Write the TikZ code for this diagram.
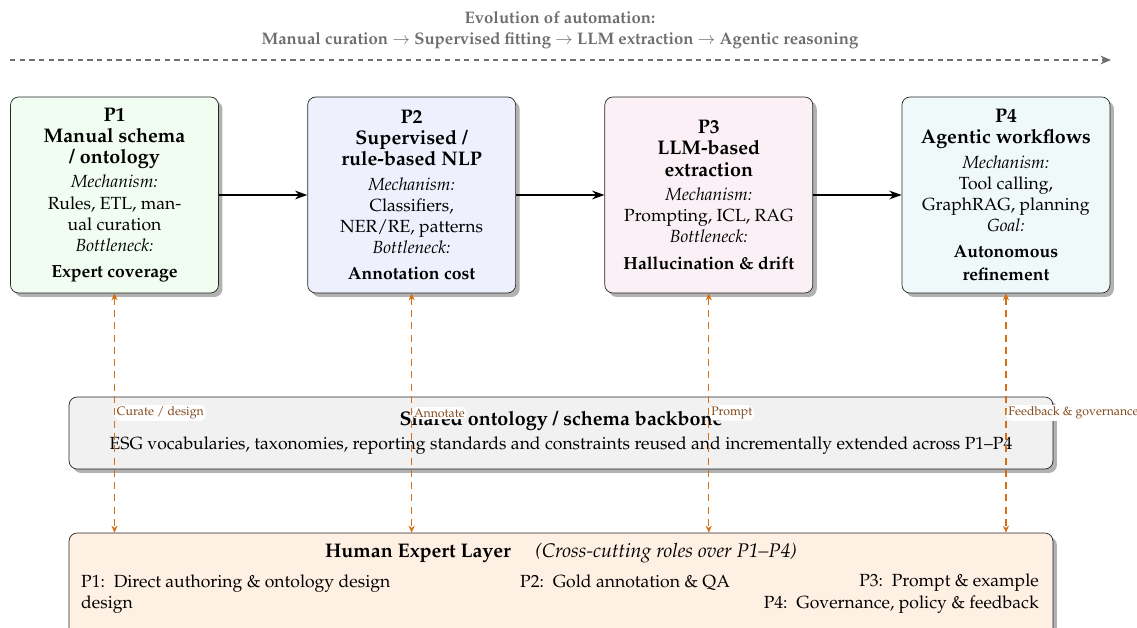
\documentclass[tikz,border=0pt]{standalone}
\usepackage[T1]{fontenc}
\usepackage{mathpazo}
\usetikzlibrary{arrows.meta, positioning, shadows}
\definecolor{phaseone}{RGB}{240,253,240}
\definecolor{phasetwo}{RGB}{238,240,253}
\definecolor{phasethree}{RGB}{251,240,245}
\definecolor{phasefour}{RGB}{239,249,249}
\definecolor{backbonegray}{RGB}{241,241,241}
\definecolor{humanfill}{RGB}{255,240,228}
\definecolor{roleorange}{RGB}{214,110,20}
\definecolor{rolebrown}{RGB}{130,70,25}
\definecolor{evogray}{RGB}{110,110,110}
\newcommand{\boxhead}{\fontsize{11.2}{13.5}\selectfont\bfseries}

\begin{document}
\begin{tikzpicture}[
        x=0.02cm, y=-0.02cm,
        phase/.style={rectangle, draw=black!85, rounded corners=0.16cm, minimum width=4.16cm, minimum height=3.92cm, align=center, inner sep=2pt, drop shadow={shadow xshift=0.08cm, shadow yshift=-0.08cm, fill=black!30, opacity=1}},
        layer/.style={rectangle, draw=black!85, rounded corners=0.16cm, minimum width=19.68cm, align=center, drop shadow={shadow xshift=0.08cm, shadow yshift=-0.08cm, fill=black!30, opacity=1}},
        flow/.style={-{Stealth[length=7pt, width=5pt]}, thick, black},
        roleline/.style={{Stealth[length=4pt, width=3.5pt]}-{Stealth[length=4pt, width=3.5pt]}, thick, roleorange, dash pattern=on 4pt off 3pt},
        rolelabel/.style={anchor=west, fill=white, rounded corners=3pt, inner sep=1pt, font=\scriptsize, text=rolebrown},
        evoarrow/.style={-{Stealth[length=6pt, width=5pt]}, semithick, evogray, dash pattern=on 3pt off 2.5pt}
    ]
        \useasboundingbox (0,0) rectangle (1137,628);

        % evolution banner
        \node[font=\fontsize{9.5}{12}\selectfont\bfseries, text=evogray, align=center] (evotitle) at (560,30) {Evolution of automation:\\Manual curation $\rightarrow$ Supervised fitting $\rightarrow$ LLM extraction $\rightarrow$ Agentic reasoning};
        \coordinate (evostart) at (10,60);
        \coordinate (evoend) at (1111,60);
        \draw[evoarrow] (evostart) -- (evoend);

        % phases
        \node[phase, fill=phaseone] (p1) at (114.5,195) {{\boxhead P1}\\{\boxhead Manual schema}\\{\boxhead / ontology}\\[2pt]\textit{Mechanism:}\\Rules, ETL, man-\\ual curation\\\textit{Bottleneck:}\\[3pt]\textbf{Expert coverage}};
        \node[phase, fill=phasetwo, right=1.77cm of p1] (p2) {{\boxhead P2}\\{\boxhead Supervised /}\\{\boxhead rule-based NLP}\\[2pt]\textit{Mechanism:}\\Classifiers,\\NER/RE, patterns\\\textit{Bottleneck:}\\[3pt]\textbf{Annotation cost}};
        \node[phase, fill=phasethree, right=1.77cm of p2] (p3) {{\boxhead P3}\\{\boxhead LLM-based}\\{\boxhead extraction}\\[2pt]\textit{Mechanism:}\\Prompting, ICL, RAG\\\textit{Bottleneck:}\\[3pt]\textbf{Hallucination \& drift}};
        \node[phase, fill=phasefour, right=1.77cm of p3] (p4) {{\boxhead P4}\\{\boxhead Agentic workflows}\\[2pt]\textit{Mechanism:}\\Tool calling,\\GraphRAG, planning\\\textit{Goal:}\\[3pt]\textbf{Autonomous}\\[1pt]\textbf{refinement}};

        \draw[flow] (p1) -- (p2);
        \draw[flow] (p2) -- (p3);
        \draw[flow] (p3) -- (p4);

        % shared backbone
        \node[layer, fill=backbonegray, minimum height=1.44cm] (backbone) at (561,433) {{\boxhead Shared ontology / schema backbone}\\[2pt]ESG vocabularies, taxonomies, reporting standards and constraints reused and incrementally extended across P1--P4};

        % human layer
        \node[layer, fill=humanfill, minimum height=2.1cm] (human) at (561,585.5) {};
        \node (humantitle) at (561,553) {{\boxhead Human Expert Layer}\hspace{1.4em}{\fontsize{11.2}{13.5}\selectfont\itshape (Cross-cutting roles over P1--P4)}};
        \node[anchor=west, align=left] (roleone) at (75,594) {P1:\enspace Direct authoring \& ontology design\\design};
        \node[anchor=west] (roletwo) at (514,583) {P2:\enspace Gold annotation \& QA};
        \node[anchor=east] (rolethree) at (1045,583) {P3:\enspace Prompt \& example};
        \node[anchor=east] (rolefour) at (1045,605) {P4:\enspace Governance, policy \& feedback};

        % expert roles
        \draw[roleline] (p1.south) -- node[rolelabel] {Curate / design} (p1.south |- human.north);
        \draw[roleline] (p2.south) -- node[rolelabel] {Annotate} (p2.south |- human.north);
        \draw[roleline] (p3.south) -- node[rolelabel] {Prompt} (p3.south |- human.north);
        \draw[roleline] (p4.south) -- node[rolelabel] {Feedback \& governance} (p4.south |- human.north);
    \end{tikzpicture}
\end{document}
